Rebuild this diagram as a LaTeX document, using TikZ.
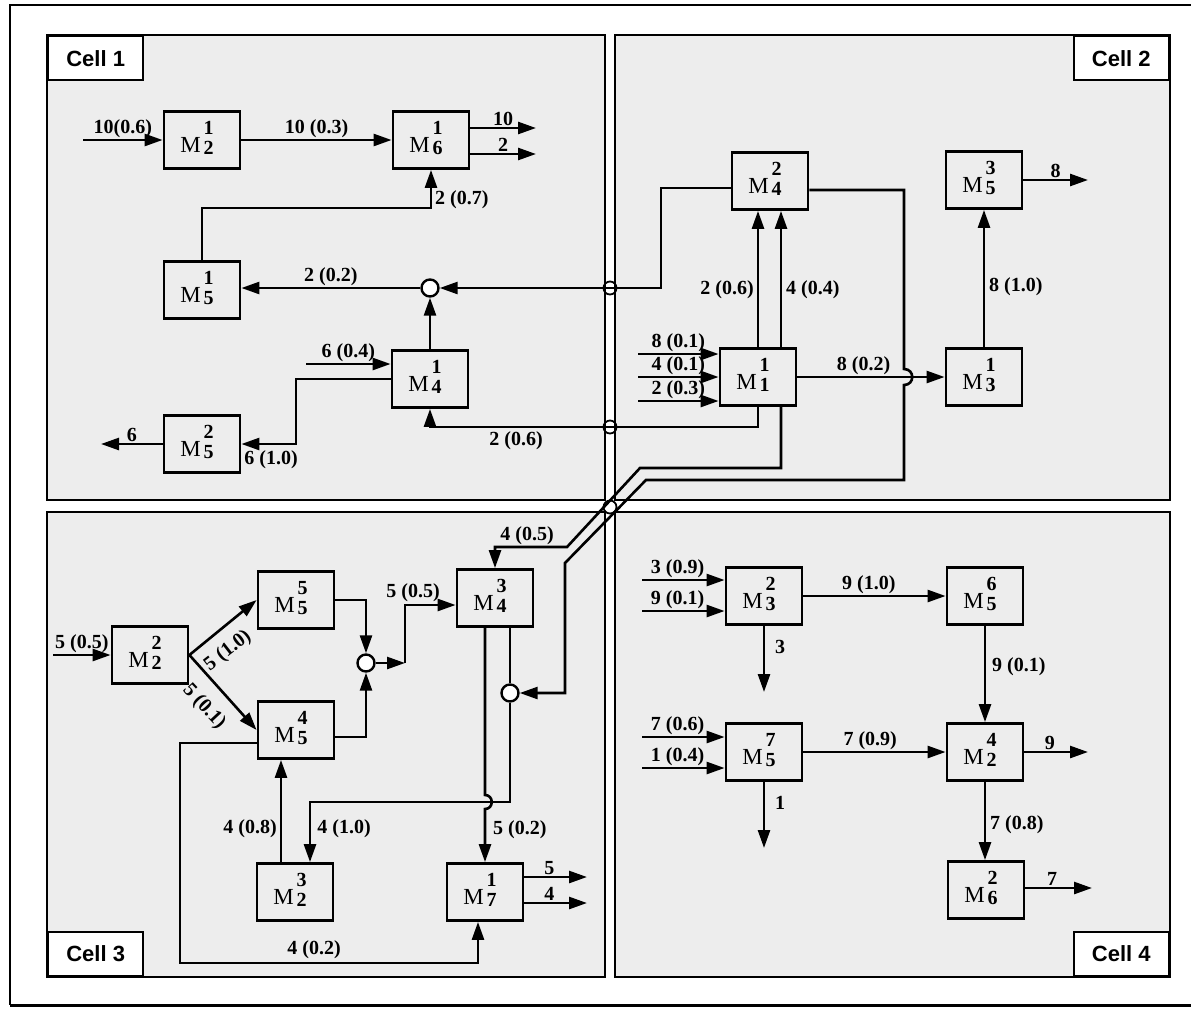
\documentclass[tikz,border=0pt]{standalone}
\usepackage{fontspec}
\setmainfont{Liberation Serif}
\newfontfamily\cellfam{Liberation Sans}
\usetikzlibrary{arrows.meta}
\definecolor{cellgray}{gray}{0.93}
\newcommand{\labfont}{\fontsize{20}{22}\selectfont\bfseries}
\newcommand{\celfont}{\cellfam\fontsize{22}{22}\selectfont\bfseries}
\newcommand{\Mlab}[2]{\fontsize{23}{23}\selectfont M\kern3pt\raisebox{-2pt}{\fontsize{20}{20}\selectfont\bfseries\begin{tabular}[b]{@{}c@{}}#1\\#2\end{tabular}}\kern10pt}
\begin{document}
\begin{tikzpicture}[x=1pt,y=-1pt,line join=miter,
  mbox/.style={draw, line width=2.8pt, fill=cellgray, minimum width=76pt, minimum height=57pt, inner sep=0pt},
  arr/.style={line width=2.6pt, -{Triangle[length=18pt,width=12pt]}},
  ln/.style={line width=2.6pt},
  lab/.style={font=\labfont, inner sep=1pt},
  junc/.style={circle, draw, line width=2.4pt, fill=white, minimum size=17pt, inner sep=0pt},
  xmark/.style={circle, draw, line width=1.8pt, minimum size=13pt, inner sep=0pt},
  cellbox/.style={draw, line width=2.4pt, fill=cellgray},
  celllab/.style={draw, line width=2.4pt, fill=white, font=\celfont, inner sep=0pt, minimum width=95pt, minimum height=44pt}]
\useasboundingbox (0,0) rectangle (1191,1010);
\fill[white] (0,0) rectangle (1191,1010);
% outer frame
\draw[line width=1.6pt] (1191,5) -- (10,5) -- (10,1005);
\draw[line width=3pt] (10,1005) -- (1191,1005);
% cells
\draw[cellbox] (47,35) rectangle (605,500);
\draw[cellbox] (615,35) rectangle (1170,500);
\draw[cellbox] (47,512) rectangle (605,977);
\draw[cellbox] (615,512) rectangle (1170,977);
\node[celllab, anchor=north west] (cl1) at (47,35) {Cell 1};
\node[celllab, anchor=north east] (cl2) at (1170,35) {Cell 2};
\node[celllab, anchor=south west] (cl3) at (47,977) {Cell 3};
\node[celllab, anchor=south east] (cl4) at (1170,977) {Cell 4};

% ---------- machines ----------
\node[mbox] (m12) at (202,140) {\Mlab{1}{2}};
\node[mbox] (m16) at (431,140) {\Mlab{1}{6}};
\node[mbox] (m15) at (202,290) {\Mlab{1}{5}};
\node[mbox] (m14) at (430,379) {\Mlab{1}{4}};
\node[mbox] (m25) at (202,444) {\Mlab{2}{5}};
\node[junc] (c1) at (430,288) {};

\node[mbox] (m24) at (770,181) {\Mlab{2}{4}};
\node[mbox] (m35) at (984,180) {\Mlab{3}{5}};
\node[mbox] (m11) at (758,377) {\Mlab{1}{1}};
\node[mbox] (m13) at (984,377) {\Mlab{1}{3}};

\node[mbox] (m22) at (150,655) {\Mlab{2}{2}};
\node[mbox] (m55) at (296,600) {\Mlab{5}{5}};
\node[mbox] (m45) at (296,730) {\Mlab{4}{5}};
\node[mbox] (m34) at (495,598) {\Mlab{3}{4}};
\node[mbox] (m32) at (295,892) {\Mlab{3}{2}};
\node[mbox] (m17) at (485,892) {\Mlab{1}{7}};
\node[junc] (c2) at (366,663) {};
\node[junc] (c3) at (510,693) {};

\node[mbox] (m23) at (764,596) {\Mlab{2}{3}};
\node[mbox] (m65) at (985,596) {\Mlab{6}{5}};
\node[mbox] (m75) at (764,752) {\Mlab{7}{5}};
\node[mbox] (m42) at (985,752) {\Mlab{4}{2}};
\node[mbox] (m26) at (986,890) {\Mlab{2}{6}};

% ---------- Cell 1 ----------
\coordinate (i12) at (83,140);
\draw[arr] (i12) -- (m12.west) node[lab,midway,above] (L1) {10(0.6)};
\draw[arr] (m12.east) -- (m16.west) node[lab,midway,above] (L2) {10 (0.3)};
\coordinate (o16a) at (536,128);
\coordinate (o16b) at (536,154);
\draw[arr] (o16a -| m16.east) -- (o16a) node[lab,midway,above] (L3) {10};
\draw[arr] (o16b -| m16.east) -- (o16b) node[lab,midway,above] (L4) {2};
\coordinate (k1) at (431,208);
\draw[arr] (m15.north) |- (k1) -- (m16.south);
\node[lab,anchor=west] (L5) at (434,200) {2 (0.7)};
\draw[arr] (c1.west) -- (c1.west -| m15.east) node[lab,midway,above] (L6) {2 (0.2)};
\draw[arr] (m14.north) -- (c1.south);
\coordinate (i14) at (306,364);
\draw[arr] (i14) -- (i14 -| m14.west) node[lab,midway,above] (L7) {6 (0.4)};
\coordinate (k3) at (296,444);
\draw[arr] (m14.west) -| (k3) -- (k3 -| m25.east);
\node[lab] (L8) at (271,460) {6 (1.0)};
\coordinate (o25) at (101,444);
\draw[arr] (m25.west) -- (o25) node[lab,midway,above] (L9) {6};
\coordinate (k4) at (758,427);
\draw[arr] (m11.south) -- (k4) -| (m14.south);
\node[lab] (L10) at (516,441) {2 (0.6)};

% ---------- Cell 2 ----------
\coordinate (k2) at (661,288);
\draw[arr] ([yshift=-7pt]m24.west) -| (k2) -- (c1.east);
\draw[arr] (m11.north) -- (m11.north |- m24.south);
\draw[arr] ([xshift=23pt]m11.north) -- ([xshift=23pt]m11.north |- m24.south);
\node[lab,anchor=east] (L11) at (755,290) {2 (0.6)};
\node[lab,anchor=west] (L12) at (785,290) {4 (0.4)};
\coordinate (i11a) at (638,354);
\coordinate (i11b) at (638,377);
\coordinate (i11c) at (638,401);
\draw[arr] (i11a) -- (i11a -| m11.west) node[lab,midway,above] (L13) {8 (0.1)};
\draw[arr] (i11b) -- (i11b -| m11.west) node[lab,midway,above] (L14) {4 (0.1)};
\draw[arr] (i11c) -- (i11c -| m11.west) node[lab,midway,above] (L15) {2 (0.3)};
\draw[arr] (m11.east) -- (m13.west) node[lab,pos=0.45,above] (L16) {8 (0.2)};
\draw[arr] (m13.north) -- (m35.south);
\node[lab,anchor=west] (L17) at (988,287) {8 (1.0)};
\coordinate (o35) at (1088,180);
\draw[arr] (m35.east) -- (o35) node[lab,midway,above] (L18) {8};
% long connector from M24 to the junction in Cell 3
\coordinate (p1) at (904,190);
\coordinate (h2a) at (904,369);
\coordinate (h2b) at (904,385);
\coordinate (p2) at (904,480);
\coordinate (p3) at (646,480);
\coordinate (p4) at (565,563);
\draw[arr] ([yshift=-9pt]m24.east) -- (p1) -- (h2a) .. controls (915,369) and (915,385) .. (h2b) -- (p2) -- (p3) -- (p4) |- (c3.east);
% connector from M11 to M34
\coordinate (q1) at (640,468);
\coordinate (q2) at (567,547);
\draw[arr] ([xshift=23pt]m11.south) |- (q1) -- (q2) -| (m34.north);
\node[lab] (L19) at (527,536) {4 (0.5)};

% ---------- Cell 3 ----------
\coordinate (i22) at (53,655);
\draw[arr] (i22) -- (m22.west) node[lab,midway,above] (L20) {5 (0.5)};
\draw[arr] (m22.east) -- (m55.west);
\node[lab,rotate=38] (L21) at (228,651) {5 (1.0)};
\draw[arr] (m22.east) -- (m45.west);
\node[lab,rotate=-47] (L22) at (204,707) {5 (0.1)};
\draw[arr] (m55.east) -| (c2.north);
\draw[arr] ([yshift=-7pt]m45.east) -| (c2.south);
\coordinate (k5) at (405,663);
\draw[arr] (c2.east) -- (k5);
\draw[arr] (k5) |- ([yshift=-7pt]m34.west);
\node[lab,anchor=south] (L23) at (413,603) {5 (0.5)};
\draw[ln] ([xshift=15pt]m34.south) -- (c3.north);
\coordinate (k7) at (510,802);
\coordinate (k8) at (310,802);
\draw[arr] (c3.south) -- (k7) -- (k8) -- (k8 |- m32.north);
\node[lab] (L24) at (344,829) {4 (1.0)};
\coordinate (h1a) at (485,795);
\coordinate (h1b) at (485,809);
\draw[arr] ([xshift=-10pt]m34.south) -- (h1a) .. controls (494,795) and (494,809) .. (h1b) -- (h1b |- m17.north);
\node[lab,anchor=west] (L25) at (492,830) {5 (0.2)};
\draw[arr] ([xshift=-14pt]m32.north) -- ([xshift=-14pt]m32.north |- m45.south);
\node[lab,anchor=east] (L26) at (278,829) {4 (0.8)};
\coordinate (k9) at (180,743);
\coordinate (k10) at (180,963);
\draw[arr] ([yshift=-13pt]m45.west) -- (k9) -- (k10) -| ([xshift=-7pt]m17.south);
\node[lab] (L27) at (314,950) {4 (0.2)};
\coordinate (o17a) at (587,877);
\coordinate (o17b) at (587,903);
\draw[arr] (o17a -| m17.east) -- (o17a) node[lab,pos=0.4,above] (L28) {5};
\draw[arr] (o17b -| m17.east) -- (o17b) node[lab,pos=0.4,above] (L29) {4};

% ---------- Cell 4 ----------
\coordinate (i23a) at (642,580);
\coordinate (i23b) at (642,611);
\draw[arr] (i23a) -- (i23a -| m23.west) node[lab,pos=0.43,above] (L30) {3 (0.9)};
\draw[arr] (i23b) -- (i23b -| m23.west) node[lab,pos=0.43,above] (L31) {9 (0.1)};
\draw[arr] (m23.east) -- (m65.west) node[lab,pos=0.46,above] (L32) {9 (1.0)};
\coordinate (o23) at (764,692);
\draw[arr] (m23.south) -- (o23);
\node[lab] (L33) at (780,647) {3};
\draw[arr] (m65.south) -- (m42.north);
\node[lab,anchor=west] (L34) at (991,667) {9 (0.1)};
\coordinate (i75a) at (642,737);
\coordinate (i75b) at (642,768);
\draw[arr] (i75a) -- (i75a -| m75.west) node[lab,pos=0.43,above] (L35) {7 (0.6)};
\draw[arr] (i75b) -- (i75b -| m75.west) node[lab,pos=0.43,above] (L36) {1 (0.4)};
\draw[arr] (m75.east) -- (m42.west) node[lab,pos=0.47,above] (L37) {7 (0.9)};
\coordinate (o42) at (1088,752);
\draw[arr] (m42.east) -- (o42) node[lab,pos=0.4,above] (L38) {9};
\coordinate (o75) at (764,848);
\draw[arr] (m75.south) -- (o75);
\node[lab] (L39) at (780,803) {1};
\draw[arr] (m42.south) -- (m42.south |- m26.north);
\node[lab,anchor=west] (L40) at (989,825) {7 (0.8)};
\coordinate (o26) at (1092,888);
\draw[arr] (o26 -| m26.east) -- (o26) node[lab,pos=0.4,above] (L41) {7};

% crossing markers on the cell borders
\node[xmark] (x1) at (610,288) {};
\node[xmark] (x2) at (610,427) {};
\node[xmark] (x3) at (610,507) {};
\end{tikzpicture}
\end{document}
